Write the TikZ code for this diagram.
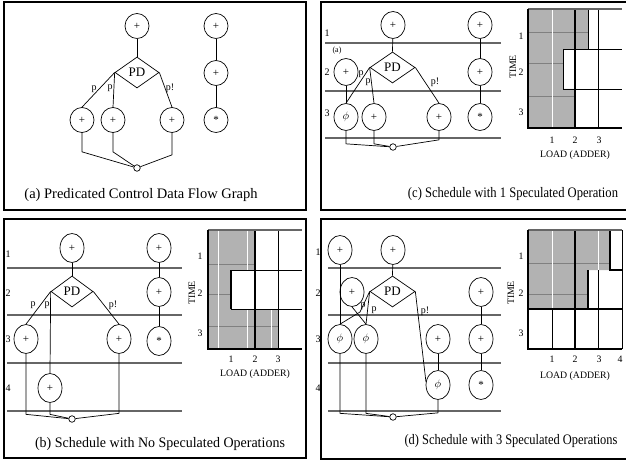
\documentclass[tikz,border=0pt]{standalone}
\usepackage{fontspec}
\setmainfont{Liberation Serif}
\usetikzlibrary{shapes.geometric}
\newcommand\myfs[1]{\fontsize{#1}{#1}\selectfont}
\newcommand\mystar{\raisebox{-3pt}{*}}
\definecolor{shadec}{gray}{0.7}
\tikzset{
 op/.style={ellipse, draw, line width=0.7pt, inner sep=0pt, minimum width=24pt, font=\myfs{11}},
 opa/.style={op, minimum height=25pt},
 opc/.style={op, minimum height=27pt},
 opb/.style={op, minimum height=29pt},
 pdn/.style={diamond, draw, line width=0.7pt, inner sep=0pt, minimum width=44pt, minimum height=31pt, font=\myfs{13}},
 junc/.style={circle, draw, fill=white, line width=0.7pt, minimum size=6.5pt, inner sep=0pt},
 conn/.style={line width=0.7pt},
 lbl/.style={font=\myfs{10}, inner sep=0pt},
 rowline/.style={draw=black!60, line width=1.2pt},
 panelframe/.style={line width=2pt},
 captxt/.style={font=\myfs{14.5}, inner sep=0pt},
 axl/.style={font=\myfs{9.8}, inner sep=0pt},
 gridln/.style={line width=0.7pt},
 thickg/.style={line width=1.6pt},
 texw/.style={draw=white, line width=0.5pt},
 texg/.style={draw=black!50, line width=0.4pt},
}
\begin{document}
\begin{tikzpicture}[x=1pt,y=-1pt]
\useasboundingbox (0,0) rectangle (626,462);
\fill[white] (0,0) rectangle (626,462);
% ---------- panel frames
\draw[panelframe] (3.5,2.5) rectangle (306,210);
\draw[panelframe] (321,2.5) rectangle (630,210);
\draw[panelframe] (3.5,219) rectangle (306,458);
\draw[panelframe] (321,219) rectangle (630,459);

% =========== (a)
\node[opa] (at) at (137,26) {+};
\node[pdn] (ad) at (137,72.5) {PD};
\node[opa] (al) at (82,120) {+};
\node[opa] (am) at (113,120) {+};
\node[opa] (ar) at (172,120) {+};
\node[opa] (ac1) at (216,26) {+};
\node[opa] (ac2) at (216,73) {+};
\node[opa] (ac3) at (216,120) {\mystar};
\node[junc] (ao) at (137,168) {};
\draw[conn] (at) -- (ad.north);
\draw[conn] (ad.west) -- (al.north);
\draw[conn] (ad.west) -- (am.north);
\draw[conn] (ad.east) -- (ar.north);
\draw[conn] (ac1) -- (ac2);
\draw[conn] (ac2) -- (ac3);
\draw[conn] (al.south) -- ++(0,19) -- (ao);
\draw[conn] (am.south) -- ++(0,19) -- (ao);
\draw[conn] (ar.south) -- ++(0,22) -- (ao);
\node[lbl] (ap1) at (94,89) {p};
\node[lbl] (ap2) at (110,88) {p};
\node[lbl] (ap3) at (170,88) {p!};
\node[captxt] (acap) at (141,195) {(a) Predicated Control Data Flow Graph};

% =========== (c)
\draw[rowline] (325,43) -- (501,43);
\draw[rowline] (325,91) -- (501,91);
\draw[rowline] (325,138) -- (501,138);
\node[lbl] (cr1) at (327,33) {1};
\node[lbl] (cr2) at (327,72) {2};
\node[lbl] (cr3) at (327,113) {3};
\node[opc] (ct) at (393,25) {+};
\node[opc] (cc1) at (480,25) {+};
\node[opc] (cc2) at (480,72) {+};
\node[opc] (cc3) at (480,117) {\mystar};
\node[opc] (ca) at (346,72) {+};
\node[font=\myfs{8}, inner sep=0pt] (cal) at (337,51) {(a)};
\node[pdn, minimum width=45pt] (cd) at (392.5,67.5) {PD};
\node[opc] (cphi) at (346,117) {$\phi$};
\node[opc] (cm) at (374,117) {+};
\node[opc] (cr) at (439,117) {+};
\node[junc] (co) at (393,147) {};
\draw[conn] (ct) -- (cd.north);
\draw[conn] (ca) -- (cphi);
\draw[conn] (cd.west) -- (cphi.north);
\draw[conn] (cd.west) -- (cm.north);
\draw[conn] (cd.east) -- (cr.north);
\draw[conn] (cc1) -- (cc2);
\draw[conn] (cc2) -- (cc3);
\draw[conn] (cphi.south) -- ++(0,13) -- (co);
\draw[conn] (cm.south) -- ++(0,13) -- (co);
\draw[conn] (cr.south) -- ++(0,9) -- (co);
\node[lbl] (cp1) at (361,74) {p};
\node[lbl] (cp2) at (368,82) {p};
\node[lbl] (cp3) at (435,82) {p!};
% chart (c)
\fill[shadec] (528,9) -- (588,9) -- (588,49) -- (563,49) -- (563,89) -- (575,89) -- (575,128) -- (528,128) -- cycle;
\begin{scope}
\clip (528,9) -- (588,9) -- (588,49) -- (563,49) -- (563,89) -- (575,89) -- (575,128) -- (528,128) -- cycle;
\draw[texg] (528,32) -- (600,32) (528,63) -- (600,63) (528,96) -- (600,96);
\draw[texw] (552,9) -- (552,128);
\end{scope}
\draw[gridln] (598,9) -- (598,128);
\draw[gridln] (563,49) -- (622,49) (563,89) -- (622,89);
\draw[gridln] (588,9) -- (588,49);
\draw[gridln] (563,49) -- (563,89);
\draw[thickg] (575,9) -- (575,128);
\draw[draw=black!60, line width=1.5pt] (528,9) -- (622,9);
\draw[thickg] (528,9) -- (528,128) -- (622,128);
\node[axl, rotate=90] (ctime) at (513,67) {TIME};
\node[axl] (cy1) at (521,36) {1};
\node[axl] (cy2) at (521,72) {2};
\node[axl] (cy3) at (521,112) {3};
\node[axl] (cx1) at (552,140) {1};
\node[axl] (cx2) at (575,140) {2};
\node[axl] (cx3) at (599,140) {3};
\node[axl] (cload) at (575,155) {LOAD (ADDER)};
\node[captxt] (ccap) at (513,194) {\scalebox{0.868}[1]{(c) Schedule with 1 Speculated Operation}};

% =========== (b)
\draw[rowline] (7,268) -- (182,268);
\draw[rowline] (7,315) -- (182,315);
\draw[rowline] (7,363) -- (182,363);
\draw[rowline] (7,411) -- (182,411);
\node[lbl] (br1) at (8,254) {1};
\node[lbl] (br2) at (8,293) {2};
\node[lbl] (br3) at (8,339) {3};
\node[lbl] (br4) at (8,388) {4};
\node[opb] (bt) at (72,248) {+};
\node[pdn, minimum width=42pt] (bd) at (72,291.5) {PD};
\node[opb] (bc1) at (159,248) {+};
\node[opb] (bc2) at (159,292) {+};
\node[opb] (bc3) at (159,341) {\mystar};
\node[opb] (bl) at (26,339) {+};
\node[opb] (br) at (119,339) {+};
\node[opb] (bm) at (50,388) {+};
\node[junc] (bo) at (72,419) {};
\draw[conn] (bt) -- (bd.north);
\draw[conn] (bd.west) -- (bl.north);
\draw[conn] (bd.west) -- (bm.north);
\draw[conn] (bd.east) -- (br.north);
\draw[conn] (bc1) -- (bc2);
\draw[conn] (bc2) -- (bc3);
\draw[conn] (bl.south) -- ++(0,60.5) -- (bo);
\draw[conn] (bm.south) -- ++(0,11.5) -- (bo);
\draw[conn] (br.south) -- ++(0,59.5) -- (bo);
\node[lbl] (bp1) at (33,305) {p};
\node[lbl] (bp2) at (47,305) {p};
\node[lbl] (bp3) at (113,305) {p!};
% chart (b)
\fill[shadec] (208,230) -- (255,230) -- (255,270) -- (231,270) -- (231,309) -- (278,309) -- (278,349) -- (208,349) -- cycle;
\begin{scope}
\clip (208,230) -- (255,230) -- (255,270) -- (231,270) -- (231,309) -- (278,309) -- (278,349) -- (208,349) -- cycle;
\draw[texg] (208,264) -- (280,264) (208,294) -- (280,294) (208,326) -- (280,326);
\draw[texw] (218,230) -- (218,349) (247,230) -- (247,349) (271,230) -- (271,349);
\end{scope}
\draw[gridln] (278,230) -- (278,349);
\draw[gridln] (231,270) -- (302,270) (231,309) -- (302,309);
\draw[thickg] (231,270) -- (231,309);
\draw[thickg] (255,230) -- (255,349);
\draw[draw=black!60, line width=1.5pt] (208,230) -- (302,230);
\draw[thickg] (208,230) -- (208,349) -- (302,349);
\node[axl, rotate=90] (btime) at (192,293) {TIME};
\node[axl] (by1) at (200,256) {1};
\node[axl] (by2) at (200,293) {2};
\node[axl] (by3) at (200,333) {3};
\node[axl] (bx1) at (231,359) {1};
\node[axl] (bx2) at (255,359) {2};
\node[axl] (bx3) at (278,359) {3};
\node[axl] (bload) at (255,374) {LOAD (ADDER)};
\node[captxt] (bcap) at (160,444) {\scalebox{0.965}[1]{(b) Schedule with No Speculated Operations}};

% =========== (d)
\draw[rowline] (328,268) -- (501,268);
\draw[rowline] (328,315) -- (501,315);
\draw[rowline] (328,363) -- (501,363);
\draw[rowline] (328,411) -- (501,411);
\node[lbl] (dr1) at (318,252) {1};
\node[lbl] (dr2) at (318,293) {2};
\node[lbl] (dr3) at (318,339) {3};
\node[lbl] (dr4) at (318,388) {4};
\node[opb] (d1) at (340,250) {+};
\node[opb] (dt) at (393,250) {+};
\node[opb] (d2) at (352,292) {+};
\node[pdn, minimum width=45pt] (dd) at (392.5,291.5) {PD};
\node[opb] (dc1) at (481,292) {+};
\node[opb] (dp1) at (340,339) {$\phi$};
\node[opb] (dp2) at (366,339) {$\phi$};
\node[opb] (dr) at (438,339) {+};
\node[opb] (dc2) at (481,339) {+};
\node[opb] (dp3) at (438,385) {$\phi$};
\node[opb] (dc3) at (481,385) {\mystar};
\node[junc] (do) at (393,417) {};
\coordinate (dbend) at (360,312);
\draw[conn] (dt) -- (dd.north);
\draw[conn] (d1) -- (dp1);
\draw[conn] (d2.south) -- (dp2.north);
\draw[conn] (dd.west) -- (dbend) -- (dp1.north);
\draw[conn] (dd.west) -- (dp2.north);
\draw[conn] (dd.east) -- (dp3.165);
\draw[conn] (dr) -- (dp3);
\draw[conn] (dc1) -- (dc2);
\draw[conn] (dc2) -- (dc3);
\draw[conn] (dp1.south) -- ++(0,59.5) -- (do);
\draw[conn] (dp2.south) -- ++(0,59.5) -- (do);
\draw[conn] (dp3.south) -- ++(0,13) -- (do);
\node[lbl] (dpl1) at (363,306) {p};
\node[lbl] (dpl2) at (374,310) {p};
\node[lbl] (dpl3) at (425,311) {p!};
% chart (d)
\fill[shadec] (528,230) -- (610,230) -- (610,270) -- (588,270) -- (588,309) -- (528,309) -- cycle;
\begin{scope}
\clip (528,230) -- (610,230) -- (610,270) -- (588,270) -- (588,309) -- (528,309) -- cycle;
\draw[texg] (528,263) -- (612,263) (528,294) -- (612,294);
\draw[texw] (552,230) -- (552,309) (598,230) -- (598,309);
\end{scope}
\draw[gridln] (552,309) -- (552,349);
\draw[gridln] (598,270) -- (598,349);
\draw[gridln] (622,230) -- (622,349);
\draw[thickg] (610,230) -- (610,270) -- (622,270);
\draw[thickg] (588,270) -- (588,309);
\draw[thickg] (528,309) -- (622,309);
\draw[thickg] (575,230) -- (575,349);
\draw[draw=black!60, line width=1.5pt] (528,230) -- (622,230);
\draw[thickg] (528,230) -- (528,349) -- (622,349);
\node[axl, rotate=90] (dtime) at (511,293) {TIME};
\node[axl] (dy1) at (521,256) {1};
\node[axl] (dy2) at (521,293) {2};
\node[axl] (dy3) at (521,333) {3};
\node[axl] (dx1) at (552,359) {1};
\node[axl] (dx2) at (575,359) {2};
\node[axl] (dx3) at (599,359) {3};
\node[axl] (dx4) at (620,359) {4};
\node[axl] (dload) at (575,376) {LOAD (ADDER)};
\node[captxt] (dcap) at (511,441) {\scalebox{0.857}[1]{(d) Schedule with 3 Speculated Operations}};
\end{tikzpicture}
\end{document}
